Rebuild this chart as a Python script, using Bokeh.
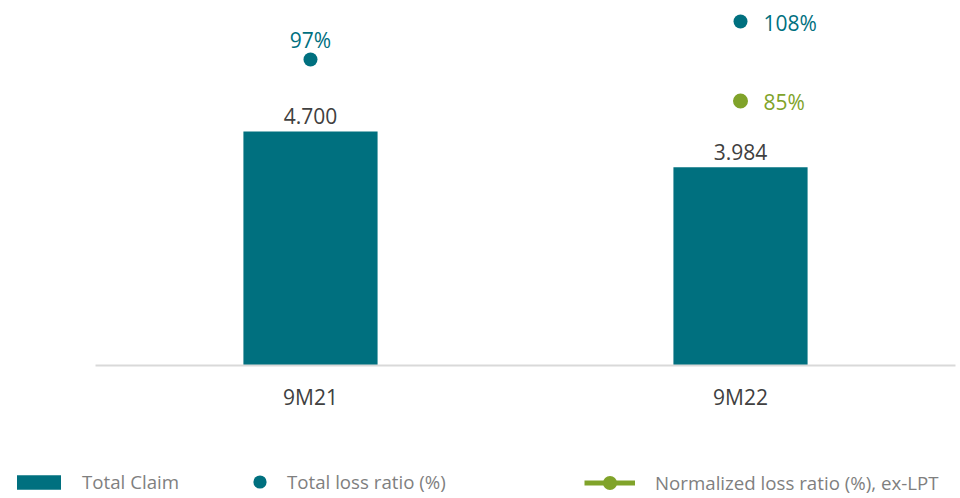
from bokeh.plotting import figure
from bokeh.models import (ColumnDataSource, Range1d, Legend, LegendItem,
                          LinearAxis, FixedTicker)
from bokeh.core.properties import value
from bokeh.embed import file_html
from bokeh.resources import INLINE

# ---- data ----
periods = ["9M21", "9M22"]
total_claim = [4700, 3984]
claim_labels = ["4.700", "3.984"]
total_loss_ratio = [97, 108]
loss_labels = ["97%", "108%"]
normalized_loss_ratio = [float("nan"), 85]
normalized_labels = ["", "85%"]

TEAL = "#00707F"
GREEN = "#80A32A"
FONT = value("Open Sans")

pos = list(range(len(periods)))  # category slots on the x axis

src = ColumnDataSource(dict(
    x=pos, period=periods, claim=total_claim, claim_label=claim_labels,
    tlr=total_loss_ratio, nlr=normalized_loss_ratio,
))

p = figure(
    x_range=Range1d(-0.7209, 1.5116),
    y_range=Range1d(-2671, 7331),
    width=960, height=498,
    min_border_left=0, min_border_right=0, min_border_top=0, min_border_bottom=0,
    x_axis_location=None, y_axis_location=None,
    output_backend="svg", toolbar_location=None,
)
p.extra_y_ranges = {"pct": Range1d(-30.08, 114.08)}
p.outline_line_color = None
p.xgrid.visible = False
p.ygrid.visible = False

bars = p.vbar(x="x", top="claim", width=0.312, source=src,
              fill_color=TEAL, line_color=None)
p.text(x="x", y="claim", text="claim_label", source=src,
       text_align="center", text_baseline="middle", y_offset=-15,
       text_font=FONT, text_font_size="21px", text_color="#404040")

tlr = p.scatter(x="x", y="tlr", source=src, y_range_name="pct",
                size=14, marker="circle", fill_color=TEAL, line_color=None)
nlr_line = p.line(x="x", y="nlr", source=src, y_range_name="pct",
                  line_color=GREEN, line_width=5)
nlr = p.scatter(x="x", y="nlr", source=src, y_range_name="pct",
                size=15, marker="circle", fill_color=GREEN, line_color=None)

src_a = ColumnDataSource(dict(x=pos[:1], tlr=total_loss_ratio[:1], lab=loss_labels[:1]))
src_b = ColumnDataSource(dict(x=pos[1:], tlr=total_loss_ratio[1:], lab=loss_labels[1:]))
src_c = ColumnDataSource(dict(x=pos[1:], nlr=normalized_loss_ratio[1:], lab=normalized_labels[1:]))

p.text(x="x", y="tlr", text="lab", source=src_a, y_range_name="pct",
       text_align="center", text_baseline="middle", y_offset=-20,
       text_font=FONT, text_font_size="21px", text_color=TEAL)
p.text(x="x", y="tlr", text="lab", source=src_b, y_range_name="pct",
       text_align="left", text_baseline="middle", x_offset=23, y_offset=1,
       text_font=FONT, text_font_size="21px", text_color=TEAL)
p.text(x="x", y="nlr", text="lab", source=src_c, y_range_name="pct",
       text_align="left", text_baseline="middle", x_offset=23, y_offset=1,
       text_font=FONT, text_font_size="21px", text_color=GREEN)

ax = LinearAxis(
    fixed_location=0,
    bounds=(pos[0] - 0.5, pos[-1] + 0.5),
    ticker=FixedTicker(ticks=pos),
    major_label_overrides={i: lab for i, lab in zip(pos, periods)},
    axis_line_color="#D9D9D9", axis_line_width=2,
    major_tick_line_color=None, minor_tick_line_color=None,
    major_label_standoff=11,
    major_label_text_font="Open Sans", major_label_text_font_size="21px",
    major_label_text_color="#404040",
)
p.add_layout(ax, "below")


def make_legend(items, x, y, gw, gh, standoff):
    lg = Legend(items=items, location=(x, y), orientation="horizontal",
                glyph_width=gw, glyph_height=gh, label_standoff=standoff,
                padding=0, margin=0, spacing=0,
                border_line_alpha=0, background_fill_alpha=0,
                label_text_font="Open Sans", label_text_font_size="18.7px",
                label_text_color="#7F7F7F")
    p.add_layout(lg, "center")

make_legend([LegendItem(label="Total Claim", renderers=[bars])], 11, 4, 55, 18, 16)
make_legend([LegendItem(label="Total loss ratio (%)", renderers=[tlr])], 243, 0, 33, 33, 11)
make_legend([LegendItem(label="Normalized loss ratio (%), ex-LPT", renderers=[nlr_line, nlr])], 584, -2, 51, 35, 20)

open("out.html", "w").write(file_html(p, INLINE))
